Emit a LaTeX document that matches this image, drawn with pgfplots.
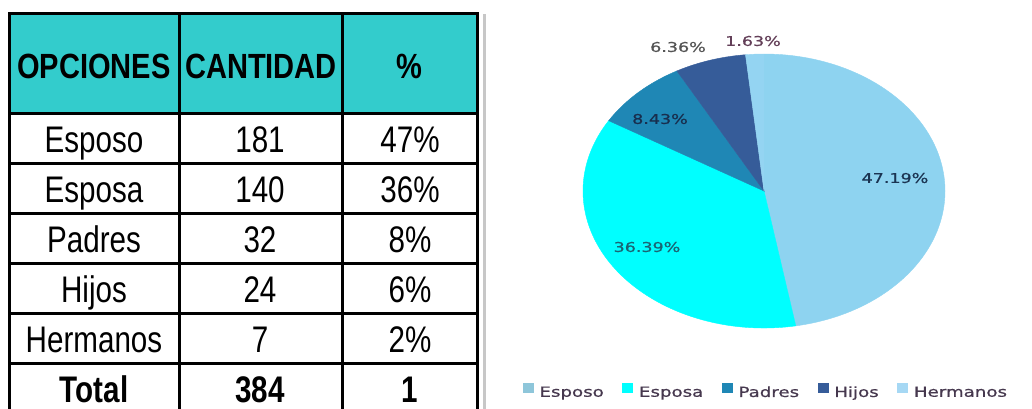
\documentclass[border=0pt]{standalone}
\usepackage{pgfplots}
\pgfplotsset{compat=1.18}
\usepackage{pgfplotstable}
\usepackage{graphicx}
\usepackage{fontspec}
\setmainfont{Liberation Sans}
\newfontfamily\dv[FakeBold=0.6]{DejaVu Sans}

\definecolor{hdr}{HTML}{33CCCC}
\definecolor{cEsposo}{HTML}{8ED3F0}
\definecolor{cEsposa}{HTML}{00FFFF}
\definecolor{cPadres}{HTML}{1F87B5}
\definecolor{cHijos}{HTML}{365C99}
\definecolor{cHermanos}{HTML}{94D4F2}
\definecolor{lEsposo}{HTML}{8EC6DA}
\definecolor{lHermanos}{HTML}{A6D8F4}
\definecolor{legtext}{HTML}{46384E}
\definecolor{lA}{HTML}{1B3452}
\definecolor{lB}{HTML}{1A6473}
\definecolor{lC}{HTML}{182E4E}
\definecolor{lD}{HTML}{555555}
\definecolor{lE}{HTML}{633F58}

% table on the left
\pgfplotstableread{
opcion cantidad pct bold
Esposo 181 47\% 0
Esposa 140 36\% 0
Padres 32 8\% 0
Hijos 24 6\% 0
Hermanos 7 2\% 0
Total 384 1 1
}\tabdata

% pie chart data
\pgfplotstableread{
name pct lx ly lcol col
Esposo 47.19 895 178 lA cEsposo
Esposa 36.39 647 247 lB cEsposa
Padres 8.43 660 119 lC cPadres
Hijos 6.36 678 47 lD cHijos
Hermanos 1.63 753 41 lE cHermanos
}\piedata

\pgfplotsset{sq/.style={legend image code/.code={\fill[##1] (0pt,0.3pt) rectangle (7.5pt,7.0pt);}}}

\begin{document}
\begin{tikzpicture}
\begin{axis}[name=main, scale only axis, width=774pt, height=306pt,
  xmin=0, xmax=1032, ymin=0, ymax=408, y dir=reverse, hide axis, clip=false,
  legend style={at={(axis cs:765,391)}, anchor=center, draw=none, fill=none,
    legend columns=5, font=\dv\fontsize{10.5}{12}\selectfont\color{legtext},
    nodes={inner sep=0pt},
    /tikz/every odd column/.append style={column sep=4.5pt},
    /tikz/every even column/.append style={column sep=14pt}}]
\addlegendimage{sq,lEsposo}\addlegendentry{\scalebox{1.3}[1]{Esposo}}
\addlegendimage{sq,cEsposa}\addlegendentry{\scalebox{1.3}[1]{Esposa}}
\addlegendimage{sq,cPadres}\addlegendentry{\scalebox{1.3}[1]{Padres}}
\addlegendimage{sq,cHijos}\addlegendentry{\scalebox{1.3}[1]{Hijos}}
\addlegendimage{sq,lHermanos}\addlegendentry{\scalebox{1.3}[1]{Hermanos}}

\pgfplotsextra{
  % ---- table ----
  \fill[hdr] (axis cs:9,13) rectangle (axis cs:477,113);
  \node[anchor=base, xscale=0.83, font=\bfseries\fontsize{26.25}{30}\selectfont] at (axis cs:94,78) {OPCIONES};
  \node[anchor=base, xscale=0.83, font=\bfseries\fontsize{26.25}{30}\selectfont] at (axis cs:261,78) {CANTIDAD};
  \node[anchor=base, xscale=0.83, font=\bfseries\fontsize{26.25}{30}\selectfont] at (axis cs:409,78) {\%};
  \foreach \i in {0,...,5}{
    \pgfplotstablegetelem{\i}{bold}\of\tabdata
    \ifnum\pgfplotsretval=1 \def\bf{\bfseries}\else\def\bf{}\fi
    \pgfmathsetmacro\yb{152+50*\i}
    \pgfplotstablegetelem{\i}{opcion}\of\tabdata
    \node[anchor=base, xscale=0.80, font=\bf\fontsize{27.75}{30}\selectfont] at (axis cs:94,\yb) {\pgfplotsretval};
    \pgfplotstablegetelem{\i}{cantidad}\of\tabdata
    \node[anchor=base, xscale=0.80, font=\bf\fontsize{27.75}{30}\selectfont] at (axis cs:260,\yb) {\pgfplotsretval};
    \pgfplotstablegetelem{\i}{pct}\of\tabdata
    \node[anchor=base, xscale=0.80, font=\bf\fontsize{27.75}{30}\selectfont] at (axis cs:410,\yb) {\pgfplotsretval};
  }
  \foreach \yy in {13,113,163,213,263,313,363,413}{
    \draw[line width=2.25pt, line cap=rect] (axis cs:9,\yy) -- (axis cs:477,\yy);
  }
  \foreach \xx in {9,179,342,477}{
    \draw[line width=2.25pt, line cap=rect] (axis cs:\xx,13) -- (axis cs:\xx,413);
  }
  \draw[line width=2.25pt, color=black!22] (axis cs:484.5,14) -- (axis cs:484.5,410);
  % ---- pie ----
  \gdef\startang{90}
  \foreach \i in {0,...,4}{
    \pgfplotstablegetelem{\i}{pct}\of\piedata
    \pgfmathsetmacro\endang{\startang-3.6*\pgfplotsretval}
    \pgfplotstablegetelem{\i}{col}\of\piedata
    \edef\slcol{\pgfplotsretval}
    \fill[\slcol, draw=\slcol, line width=0.3pt] (axis cs:764,191) -- (axis cs:{764+181*cos(\startang)},{191-137*sin(\startang)})
      arc[start angle=\startang, end angle=\endang, x radius=135.75pt, y radius=102.75pt] -- cycle;
    \xdef\startang{\endang}
  }
  \foreach \i in {0,...,4}{
    \pgfplotstablegetelem{\i}{lx}\of\piedata \edef\lx{\pgfplotsretval}
    \pgfplotstablegetelem{\i}{ly}\of\piedata \edef\ly{\pgfplotsretval}
    \pgfplotstablegetelem{\i}{lcol}\of\piedata \edef\lc{\pgfplotsretval}
    \pgfplotstablegetelem{\i}{pct}\of\piedata
    \node[xscale=1.3, text=\lc, font=\dv\fontsize{10.1}{12}\selectfont, inner sep=0pt] at (axis cs:\lx,\ly) {\pgfplotsretval\%};
  }
}
\end{axis}
\pgfresetboundingbox
\useasboundingbox (main.south west) rectangle (main.north east);
\end{tikzpicture}
\end{document}
